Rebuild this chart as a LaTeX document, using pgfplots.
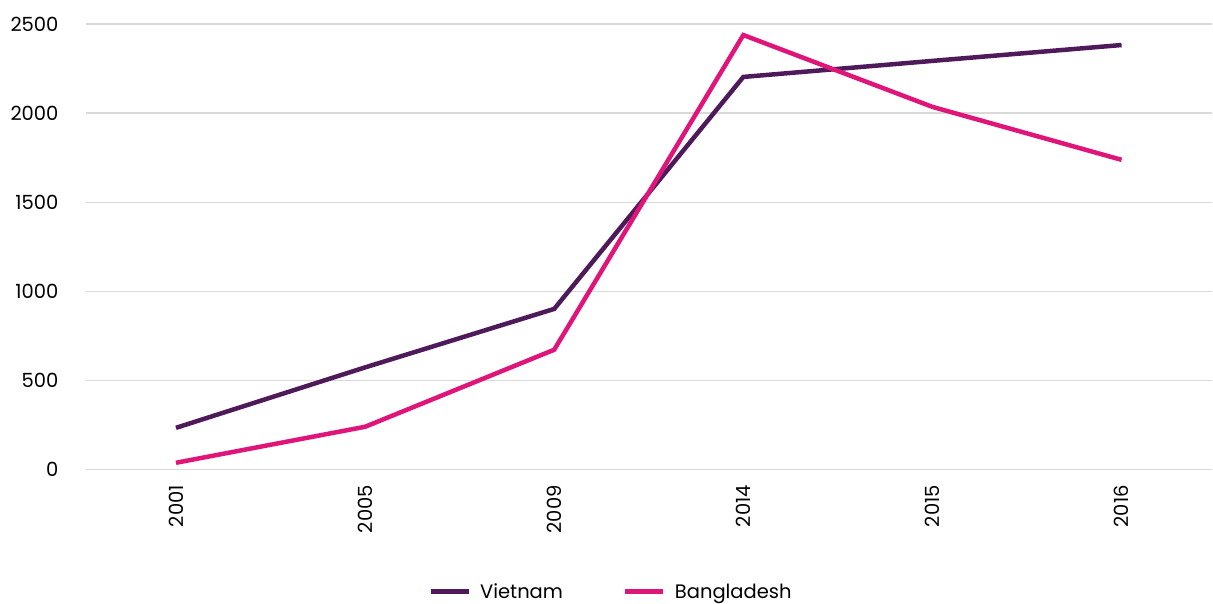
\documentclass[border=0pt]{standalone}
\usepackage{pgfplots}
\pgfplotsset{compat=1.18}
\usepackage{fontspec}
\setmainfont{Poppins}
\definecolor{viet}{HTML}{4E1A5A}
\definecolor{bang}{HTML}{E0157A}
\definecolor{gridc}{HTML}{D9D9D9}
\begin{document}
\begin{tikzpicture}
\begin{axis}[
  name=ax,
  scale only axis,
  width=1127pt, height=446pt,
  xmin=-0.476, xmax=5.48,
  ymin=0, ymax=2500,
  ytick={0,500,1000,1500,2000,2500},
  xtick={0,1,2,3,4,5},
  xticklabels={2001,2005,2009,2014,2015,2016},
  x tick label style={rotate=90, anchor=east, font=\fontsize{19.5}{21}\selectfont},
  y tick label style={font=\fontsize{19.5}{21}\selectfont},
  xticklabel shift=12pt,
  yticklabel shift=24pt,
  /pgf/number format/assume math mode=true,
  /pgf/number format/1000 sep={},
  axis line style={draw=none},
  major tick length=0pt,
  ymajorgrids,
  grid style={gridc, line width=1.3pt},
  legend columns=2,
  legend style={draw=none, at={(0.466,-0.2735)}, anchor=center, font=\fontsize{19.5}{21}\selectfont,
    /tikz/every odd column/.append style={column sep=7pt},
    /tikz/every even column/.append style={column sep=58pt}},
  legend image code/.code={\draw[#1, line width=5pt] (0pt,0pt) -- (38pt,0pt);},
]
\addplot[viet, line width=4.5pt] coordinates {(0,235) (1,574) (2,902) (3,2203) (4,2293) (5,2382)};
\addlegendentry{Vietnam}
\addplot[bang, line width=4.5pt] coordinates {(0,39) (1,241) (2,673) (3,2438) (4,2035) (5,1738)};
\addlegendentry{Bangladesh}
\end{axis}
\path ([xshift=-86pt,yshift=-134pt]ax.south west) rectangle ([yshift=24pt]ax.north east);
\end{tikzpicture}
\end{document}
